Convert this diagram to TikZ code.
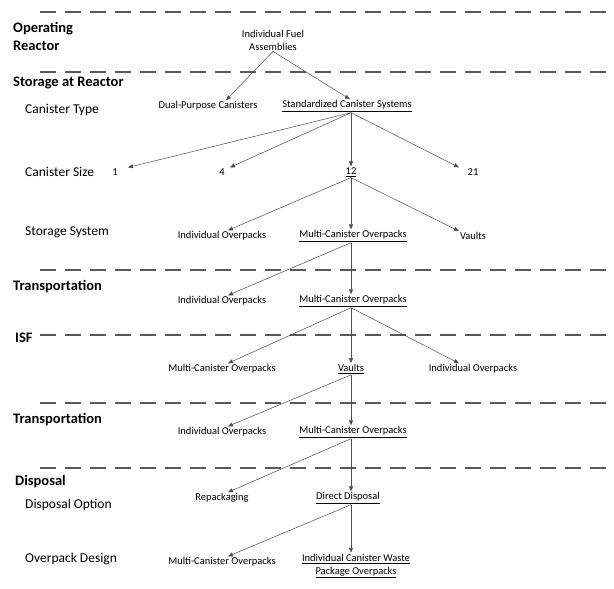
\documentclass[tikz,border=0pt]{standalone}
\usepackage{fontspec}
\setmainfont{Carlito}
\usetikzlibrary{arrows.meta}
\begin{document}
\begin{tikzpicture}[x=1pt,y=-1pt,
  item/.style={font=\fontsize{10.5}{13}\selectfont, inner sep=1pt, align=center},
  stage/.style={font=\fontsize{14.5}{18}\selectfont\bfseries, anchor=west, align=left, inner sep=0pt},
  level/.style={font=\fontsize{13.5}{15}\selectfont, anchor=west, inner sep=0pt},
  sep/.style={draw=black!65, line width=2.2pt, dash pattern=on 16pt off 9pt},
  link/.style={draw=black!70, line width=0.5pt, -{Triangle[length=5pt,width=4pt]}}]
\useasboundingbox (0,0) rectangle (614,589);

%Dashed separators
\draw[sep] (40,12) -- (614,12);
\draw[sep] (40,72) -- (614,72);
\draw[sep] (40,270) -- (614,270);
\draw[sep] (40,335) -- (614,335);
\draw[sep] (40,403) -- (614,403);
\draw[sep] (40,468) -- (614,468);

%Stage labels
\node[stage] (lop) at (13,36) {Operating\\ Reactor};
\node[stage] (lsr) at (13,83) {Storage at Reactor};
\node[stage] (ltr1) at (13,287) {Transportation};
\node[stage] (lisf) at (15,338) {ISF};
\node[stage] (ltr2) at (13,420) {Transportation};
\node[stage] (ldis) at (15,482) {Disposal};

%Level labels
\node[level] (lct) at (25,110) {Canister Type};
\node[level] (lcs) at (25,172) {Canister Size};
\node[level] (lss) at (25,232) {Storage System};
\node[level] (ldo) at (25,505) {Disposal Option};
\node[level] (lod) at (25,559) {Overpack Design};

%Options
\node[item] (fuel) at (273,40) {Individual Fuel\\Assemblies};
\node[item] (dual) at (208,106) {Dual-Purpose Canisters};
\node[item] (std) at (347,106) {\underline{Standardized Canister Systems}};
\node[item] (s1) at (115,172) {1};
\node[item] (s4) at (222,172) {4};
\node[item] (s12) at (351,172) {\underline{12}};
\node[item] (s21) at (473,172) {21};
\node[item] (so1) at (222,236) {Individual Overpacks};
\node[item] (so2) at (353,236) {\underline{Multi-Canister Overpacks}};
\node[item] (so3) at (473,236) {Vaults};
\node[item] (ta1) at (222,301) {Individual Overpacks};
\node[item] (ta2) at (353,301) {\underline{Multi-Canister Overpacks}};
\node[item] (isf1) at (222,369) {Multi-Canister Overpacks};
\node[item] (isf2) at (351,369) {\underline{Vaults}};
\node[item] (isf3) at (473,369) {Individual Overpacks};
\node[item] (tb1) at (222,432) {Individual Overpacks};
\node[item] (tb2) at (353,432) {\underline{Multi-Canister Overpacks}};
\node[item] (dp1) at (222,498) {Repackaging};
\node[item] (dp2) at (348,498) {\underline{Direct Disposal}};
\node[item] (od1) at (222,562) {Multi-Canister Overpacks};
\node[item] (od2) at (356,566) {\underline{Individual Canister Waste}\\\underline{Package Overpacks}};

%Arrows
\draw[link] (fuel.south) -- ([xshift=18pt]dual.north);
\draw[link] (fuel.south) -- ([xshift=3pt]std.north);
\draw[link] ([xshift=4pt]std.south) -- ([xshift=13pt]s1.north);
\draw[link] ([xshift=4pt]std.south) -- ([xshift=8pt]s4.north);
\draw[link] ([xshift=4pt]std.south) -- (s12.north);
\draw[link] ([xshift=4pt]std.south) -- ([xshift=-14pt]s21.north);
\draw[link] (s12.south) -- ([xshift=6pt]so1.north);
\draw[link] (s12.south) -- (s12.south |- so2.north);
\draw[link] (s12.south) -- ([xshift=-14pt]so3.north);
\draw[link] ([xshift=-2pt]so2.south) -- ([xshift=6pt]ta1.north);
\draw[link] ([xshift=-2pt]so2.south) -- ([xshift=-2pt]ta2.north);
\draw[link] ([xshift=-2pt]ta2.south) -- ([xshift=6pt]isf1.north);
\draw[link] ([xshift=-2pt]ta2.south) -- (isf2.north);
\draw[link] ([xshift=-2pt]ta2.south) -- ([xshift=-14pt]isf3.north);
\draw[link] (isf2.south) -- ([xshift=6pt]tb1.north);
\draw[link] (isf2.south) -- (isf2.south |- tb2.north);
\draw[link] ([xshift=-2pt]tb2.south) -- ([xshift=6pt]dp1.north);
\draw[link] ([xshift=-2pt]tb2.south) -- ([xshift=3pt]dp2.north);
\draw[link] ([xshift=3pt]dp2.south) -- ([xshift=6pt]od1.north);
\draw[link] ([xshift=3pt]dp2.south) -- ([xshift=-5pt]od2.north);
\end{tikzpicture}
\end{document}
